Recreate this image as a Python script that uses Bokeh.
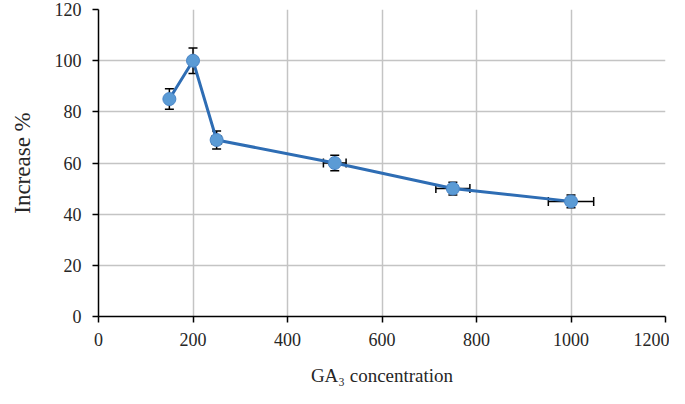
from bokeh.plotting import figure
from bokeh.models import ColumnDataSource, Whisker, TeeHead, Range1d, FixedTicker
from bokeh.embed import file_html
from bokeh.resources import INLINE

# data
conc = [150, 200, 250, 500, 750, 1000]
increase = [85, 100, 69, 60, 50, 45]
y_err = [4, 5, 3.5, 3, 2.5, 2.5]
x_err = [0, 8, 10, 24, 36, 48]
x_ticks = [0, 200, 400, 600, 800, 1000, 1200]
y_ticks = [0, 20, 40, 60, 80, 100, 120]

src = ColumnDataSource(dict(
    x=conc, y=increase,
    ylo=[v - e for v, e in zip(increase, y_err)],
    yhi=[v + e for v, e in zip(increase, y_err)],
    xlo=[v - e for v, e in zip(conc, x_err)],
    xhi=[v + e for v, e in zip(conc, x_err)],
))

p = figure(width=669, height=388, output_backend="svg", toolbar_location=None,
           x_range=Range1d(0, 1200), y_range=Range1d(0, 120),
           min_border_left=98, min_border_right=4, min_border_top=9, min_border_bottom=70)
p.outline_line_color = None
p.background_fill_color = "white"

for ax in (p.xaxis, p.yaxis):
    ax.axis_line_color = "black"
    ax.axis_line_width = 1.5
    ax.major_tick_line_color = "black"
    ax.major_tick_line_width = 1.5
    ax.major_tick_in = 0
    ax.major_tick_out = 6
    ax.minor_tick_line_color = None
    ax.major_label_text_font = "Liberation Serif"
    ax.major_label_text_font_size = "18px"
    ax.major_label_text_color = "#262626"
    ax.axis_label_text_font = "Liberation Serif"
    ax.axis_label_text_font_style = "normal"
    ax.axis_label_text_color = "#262626"

p.xaxis.axis_label_text_font_size = "19px"
p.yaxis.axis_label_text_font_size = "23px"
p.xaxis.ticker = FixedTicker(ticks=x_ticks)
p.yaxis.ticker = FixedTicker(ticks=y_ticks)
p.xaxis.major_label_standoff = 10
p.yaxis.major_label_standoff = 11
p.xaxis.axis_label_standoff = 16
p.yaxis.axis_label_standoff = 17
p.xaxis.axis_label = "GA\u2083 concentration"
p.yaxis.axis_label = "Increase %"

p.xgrid.ticker = FixedTicker(ticks=x_ticks)
p.ygrid.ticker = FixedTicker(ticks=y_ticks)
for g in (p.xgrid, p.ygrid):
    g.grid_line_color = "#c4c4c4"
    g.grid_line_width = 1.5

p.line("x", "y", source=src, line_color="#2e6db4", line_width=3)

yw = Whisker(base="x", lower="ylo", upper="yhi", source=src, dimension="height",
             line_color="black", line_width=1.5,
             lower_head=TeeHead(size=9, line_color="black", line_width=1.5),
             upper_head=TeeHead(size=9, line_color="black", line_width=1.5))
xw = Whisker(base="y", lower="xlo", upper="xhi", source=src, dimension="width",
             line_color="black", line_width=1.5,
             lower_head=TeeHead(size=9, line_color="black", line_width=1.5),
             upper_head=TeeHead(size=9, line_color="black", line_width=1.5))
p.add_layout(yw)
p.add_layout(xw)

p.scatter("x", "y", source=src, size=13, fill_color="#5b9bd5", line_color="#4a86c8", line_width=1)

open("out.html", "w").write(file_html(p, INLINE))
